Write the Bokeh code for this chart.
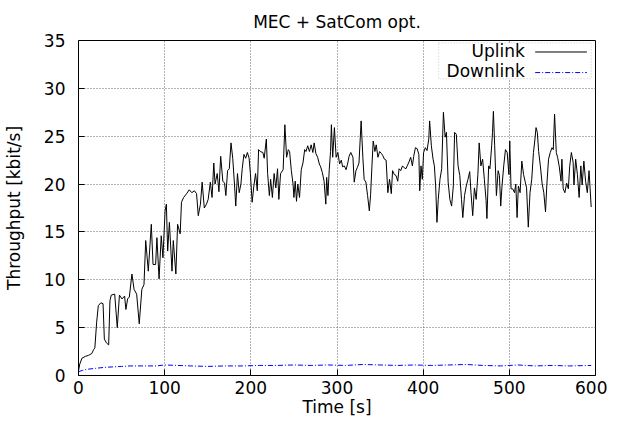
from bokeh.plotting import figure
from bokeh.models import (Range1d, SingleIntervalTicker, Label,
                          BoxAnnotation, Arrow, ColumnDataSource)
from bokeh.embed import file_html
from bokeh.resources import INLINE

# ---------------- data ----------------
uplink_time = [
    0, 1.5, 4, 8, 11.5, 15.5, 17.5, 19, 21, 23,
    26, 28.5, 30, 32.5, 35, 36.5, 38, 42, 45, 47.5,
    50.5, 53.5, 55, 57, 59, 62, 64.5, 67.5, 70.5, 73.5,
    76, 78, 81, 84.5, 86.5, 89.5, 91, 93.5, 96, 98,
    100.5, 102, 103.5, 105.5, 108.5, 110, 113, 115, 118, 119.5,
    122, 125.5, 128.5, 131.5, 134.5, 137, 139, 141.5, 143.5, 146,
    148.5, 150.5, 153, 155, 157, 158.5, 161, 163, 165, 167.5,
    169.5, 171, 173, 175, 177, 179, 181, 182.5, 184.5, 186.5,
    188.5, 190, 192, 194, 196, 198, 199.5, 201.5, 203.5, 205.5,
    207.5, 209, 211, 214, 215.5, 218, 219.5, 221.5, 223, 225,
    227, 229, 231, 232.5, 234.5,
    237.5, 239.5, 241.5, 243.5, 245, 247, 249, 250, 251.5, 253,
    254.5, 256.5, 258.5, 260.5, 262.5, 264, 266, 268, 270, 272,
    273.5, 275.5, 277.5, 279.5, 281, 283, 285, 287, 288, 289.5,
    291, 292.5, 293.5, 295, 297, 299, 301, 303, 305, 306.5,
    308.5, 310.5, 312.5, 314, 316, 318.5, 320, 322, 323.5, 325.5,
    328, 330, 331.5, 333.5, 335.5, 337.5, 339, 340.5, 342, 344,
    345.5, 347.5, 349.5, 351.5, 353, 355, 357,
    359, 361, 363, 364.5, 366.5, 368.5, 370.5, 372, 374, 376,
    378, 380, 381.5, 383.5, 385.5, 387.5, 389, 391, 393, 395,
    396, 397.5, 399, 400.5, 402.5, 404.5, 406.5, 407.5, 409.5, 411.5,
    413, 414.5, 416, 417.5, 419.5, 421.5, 423.5, 425.5, 427, 429,
    431, 433, 435, 436.5, 438.5, 440.5, 442.5, 444.5, 446, 448,
    450, 452, 454, 455.5, 457.5, 459.5, 461.5, 463.5, 465, 467,
    469, 471, 473, 474, 476, 477.5, 479.5,
    480.5, 481.5, 483, 485, 487, 488.5, 490, 491.5, 493.5, 495.5,
    497.5, 499.5, 500.5, 502, 504, 506, 507.5, 509, 510.5, 512.5,
    514.5, 516.5, 518.5, 520, 522, 524, 526, 528, 529.5, 531,
    532.5, 534, 536, 538, 540, 542, 543.5, 545.5, 547.5, 549.5,
    551, 552.5, 554.5, 556, 558, 560, 561, 562.5, 564.5, 566.5,
    568.5, 570, 572, 574, 575, 577, 579, 581, 583, 584.5,
    586.5, 588.5, 590.5, 592.5, 595,
]
uplink_kbps = [
    0.5, 1.2, 1.8, 2.0, 2.1, 2.3, 2.7, 2.9, 5.5, 7.3,
    7.6, 7.5, 3.8, 3.4, 3.2, 7.8, 8.4, 8.5, 5.0, 8.4,
    8.0, 8.3, 6.9, 8.0, 8.2, 10.6, 9.0, 8.5, 5.4, 9.0,
    9.5, 14.1, 10.9, 15.8, 11.6, 11.6, 14.4, 10.1, 14.6, 12.3,
    17.2, 17.9, 13.0, 16.0, 10.9, 14.1, 10.6, 15.8, 14.8, 18.1,
    18.6, 19.0, 19.4, 19.1, 19.3, 19.0, 16.7, 17.9, 20.2, 17.5,
    17.9, 18.4, 20.2, 18.6, 22.2, 20.0, 21.1, 19.2, 22.9, 20.3,
    20.1, 18.8, 21.4, 21.6, 24.3, 22.7, 20.0, 17.7, 21.1, 19.1,
    20.0, 21.6, 23.1, 22.7, 23.3, 22.7, 21.1, 18.1, 19.8, 21.1,
    19.3, 23.6, 23.4, 23.3, 22.7, 24.7, 21.1, 18.8, 20.5, 18.6,
    21.1, 19.6, 21.6, 18.4, 21.1,
    21.5, 26.2, 22.8, 23.6, 23.4, 21.4, 20.0, 18.6, 20.3, 18.2,
    20.0, 18.6, 21.5, 22.2, 23.6, 23.4, 24.0, 23.4, 24.1, 23.3,
    24.3, 23.2, 22.8, 22.1, 21.8, 21.2, 20.3, 17.9, 20.7, 18.8,
    21.5, 23.4, 26.2, 22.8, 25.9, 22.8, 23.3, 22.1, 22.5, 21.8,
    21.9, 21.5, 22.2, 22.9, 23.3, 22.8, 20.2, 21.4, 21.7, 22.2,
    26.6, 22.8, 20.5, 20.2, 18.8, 17.2, 18.9, 21.8, 24.5, 23.4,
    24.1, 22.8, 23.4, 23.2, 23.0, 22.6, 22.5,
    19.1, 20.5, 19.0, 21.4, 21.0, 20.9, 20.3, 21.6, 21.4, 21.9,
    21.7, 21.6, 21.9, 22.3, 22.8, 21.9, 22.9, 23.8, 23.7, 23.1,
    19.3, 21.9, 20.5, 23.3, 23.8, 23.5, 24.7, 26.6, 24.0, 22.6,
    21.9, 19.8, 16.0, 18.4, 20.5, 21.6, 27.5, 24.9, 25.4, 20.2,
    18.4, 17.7, 19.8, 25.4, 25.2, 21.9, 20.9, 18.4, 16.5, 18.8,
    19.8, 20.5, 21.3, 19.1, 16.7, 19.6, 18.4, 21.0, 24.3, 21.9,
    22.6, 20.5, 18.3, 16.4, 21.9, 21.6, 24.0,
    25.4, 27.6, 24.0, 18.8, 21.4, 20.9, 17.7, 19.8, 21.9, 23.6,
    23.3, 21.0, 24.5, 19.5, 19.5, 19.1, 20.0, 16.5, 19.8, 19.1,
    22.4, 21.0, 20.2, 19.6, 15.5, 19.1, 20.5, 23.3, 24.5, 25.9,
    25.4, 23.4, 21.9, 20.1, 19.1, 17.1, 19.9, 22.6, 23.3, 23.8,
    23.6, 27.3, 23.3, 22.8, 21.8, 20.3, 22.6, 19.5, 19.1, 20.1,
    19.5, 21.8, 23.3, 22.3, 19.9, 22.6, 21.0, 18.6, 21.9, 19.9,
    22.4, 20.3, 19.1, 21.4, 17.6,
]
downlink_time = [0, 5, 10, 20, 30, 40, 50, 60, 75, 90,
                 100, 115, 130, 150, 170, 190, 210, 230, 250, 270,
                 290, 310, 330, 350, 370, 390, 410, 430, 450, 470,
                 490, 510, 530, 550, 570, 595]
downlink_kbps = [0.4, 0.55, 0.65, 0.75, 0.85, 0.9, 0.95, 1.0, 1.0, 1.0,
                 1.1, 1.05, 1.0, 0.95, 1.0, 1.0, 1.05, 1.05, 1.1, 1.05,
                 1.1, 1.05, 1.15, 1.1, 1.05, 1.1, 1.05, 1.1, 1.15, 1.05,
                 1.0, 1.1, 1.0, 1.05, 1.0, 1.05]
series_names = ["Uplink", "Downlink"]
chart_title = "MEC + SatCom opt."
x_ticks_step = 100
y_ticks_step = 5

FONT = "DejaVu Sans"
FS = "17px"

n_up = min(len(uplink_time), len(uplink_kbps))
n_dn = min(len(downlink_time), len(downlink_kbps))
up_src = ColumnDataSource(dict(t=uplink_time[:n_up], v=uplink_kbps[:n_up]))
dn_src = ColumnDataSource(dict(t=downlink_time[:n_dn], v=downlink_kbps[:n_dn]))

p = figure(frame_width=517, frame_height=335, output_backend="svg",
           toolbar_location=None,
           x_range=Range1d(0, 600), y_range=Range1d(0, 35),
           min_border_left=77, min_border_right=12, min_border_top=36,
           min_border_bottom=46, background_fill_color="white",
           border_fill_color="white")

p.title.text = chart_title
p.title.align = "center"
p.title.offset = 3
p.title.text_font = FONT
p.title.text_font_size = FS
p.title.text_font_style = "normal"
p.title.text_color = "black"
p.title.standoff = 18

p.outline_line_color = "black"
p.outline_line_width = 1
p.outline_line_alpha = 1

p.xaxis.ticker = SingleIntervalTicker(interval=x_ticks_step)
p.yaxis.ticker = SingleIntervalTicker(interval=y_ticks_step)

for ax in (p.xaxis[0], p.yaxis[0]):
    ax.axis_line_color = None
    ax.major_tick_in = 6
    ax.major_tick_out = 0
    ax.major_tick_line_color = "black"
    ax.minor_tick_line_color = None
    ax.major_label_text_font = FONT
    ax.major_label_text_font_size = FS
    ax.major_label_text_color = "black"
    ax.axis_label_text_font = FONT
    ax.axis_label_text_font_size = FS
    ax.axis_label_text_font_style = "normal"
    ax.axis_label_text_color = "black"

p.xaxis.axis_label = "Time [s]"
p.yaxis.axis_label = "Throughput [kbit/s]"
p.xaxis.major_label_standoff = 1
p.xaxis.axis_label_standoff = 0
p.yaxis.major_label_standoff = 9
p.yaxis.axis_label_standoff = 17

p.grid.grid_line_color = "#666666"
p.grid.grid_line_dash = "1 2"
p.grid.grid_line_width = 1

p.line("t", "v", source=up_src, line_color="black", line_width=1)
p.line("t", "v", source=dn_src, line_color="#0000ff", line_width=1,
       line_dash="5 2 1 2")

# gnuplot-style key (text left, sample right)
key_box = BoxAnnotation(left=418, right=595, top=34.75, bottom=31.0,
                        fill_color="white", fill_alpha=1.0,
                        line_color="#444444", line_dash="1 2", line_width=1)
p.add_layout(key_box)
key_y = [33.95, 31.8]
key_styles = [dict(line_color="black", line_dash="solid"),
              dict(line_color="#0000ff", line_dash="5 2 1 2")]
for name, ky, st in zip(series_names, key_y, key_styles):
    p.add_layout(Label(x=518, y=ky, text=name, text_align="right",
                       text_baseline="middle", text_font=FONT,
                       text_font_size=FS, text_color="black"))
    p.add_layout(Arrow(end=None, x_start=530, y_start=ky - 0.15, x_end=590,
                       y_end=ky - 0.15, line_width=1, **st))

open("out.html", "w").write(file_html(p, INLINE))
